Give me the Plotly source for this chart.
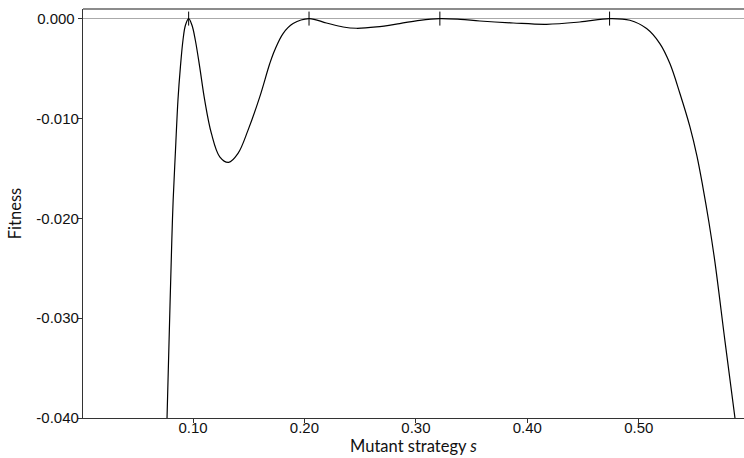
import plotly.graph_objects as go

# Invasion fitness of a rare mutant playing strategy s
strategy = [0.0767, 0.0795, 0.0810, 0.0822, 0.0843, 0.0865, 0.0887, 0.0910, 0.0932,
            0.0961, 0.0991, 0.1021, 0.1060, 0.1105, 0.1165, 0.1240, 0.1320, 0.1404,
            0.1494, 0.1599, 0.1689, 0.1733, 0.1808, 0.1898, 0.2041, 0.2197, 0.2347,
            0.2467, 0.2646, 0.2855, 0.3035, 0.3215, 0.3400, 0.3574, 0.3873, 0.4172,
            0.4471, 0.4738, 0.4920, 0.5070, 0.5189, 0.5279, 0.5369, 0.5459, 0.5522,
            0.5575, 0.5629, 0.5683, 0.5773, 0.5863]
fitness = [-0.04000, -0.02817, -0.02217, -0.01817, -0.01317, -0.00817, -0.00484, -0.00217, -0.00067,
           0.00000, -0.00067, -0.00217, -0.00484, -0.00817, -0.01150, -0.01384, -0.01440, -0.01350,
           -0.01117, -0.00784, -0.00450, -0.00317, -0.00150, -0.00050, 0.00000, -0.00044, -0.00084,
           -0.00097, -0.00084, -0.00050, -0.00017, 0.00000, -0.00008, -0.00024, -0.00044, -0.00057,
           -0.00034, 0.00000, -0.00017, -0.00100, -0.00250, -0.00450, -0.00750, -0.01084, -0.01377,
           -0.01687, -0.02037, -0.02437, -0.03227, -0.04000]

# Resident strategies (fitness zero)
resident = [0.0961, 0.2041, 0.3215, 0.4738]
resident_fitness = [0.0, 0.0, 0.0, 0.0]

x_ticks = [0.10, 0.20, 0.30, 0.40, 0.50]
x_tick_labels = ["0.10", "0.20", "0.30", "0.40", "0.50"]
y_ticks = [0.0, -0.01, -0.02, -0.03, -0.04]
y_tick_labels = ["0.000&nbsp;", "-0.010", "-0.020", "-0.030", "-0.040"]

fig = go.Figure()
fig.add_trace(go.Scatter(
    x=strategy, y=fitness, mode="lines",
    line=dict(color="black", width=1.2, shape="spline", smoothing=1.0),
    hoverinfo="skip", showlegend=False,
))
fig.add_trace(go.Scatter(
    x=resident, y=resident_fitness, mode="markers",
    marker=dict(symbol="line-ns", size=10, line=dict(color="black", width=1)),
    hoverinfo="skip", showlegend=False,
))

fig.update_layout(
    width=744, height=458,
    margin=dict(l=83, r=0, t=9, b=40, autoexpand=False),
    paper_bgcolor="white", plot_bgcolor="white",
    font=dict(family="Liberation Sans, Arial, sans-serif", size=15, color="#111"),
    xaxis=dict(
        range=[0.0013, 0.5944], tickvals=x_ticks, ticktext=x_tick_labels,
        showgrid=False, zeroline=False, showline=True, linecolor="#333", linewidth=1.3,
        ticks="outside", ticklen=4, tickcolor="#333", tickwidth=1,
        ticklabelstandoff=-8,
        automargin=False,
        title=dict(text="Mutant strategy <i>s</i>", standoff=4,
                   font=dict(family="Lato, sans-serif", size=16.5, color="#111")),
    ),
    yaxis=dict(
        range=[-0.04, 0.00096], tickvals=y_ticks, ticktext=y_tick_labels,
        showgrid=False, zeroline=True, zerolinecolor="#aaaaaa", zerolinewidth=1.3,
        showline=True, linecolor="#333", linewidth=1.3,
        ticks="outside", ticklen=4, tickcolor="#333", tickwidth=1,
        ticklabelstandoff=-4,
        automargin=False,
        title=dict(text="Fitness", standoff=10,
                   font=dict(family="Lato, sans-serif", size=16.5, color="#111")),
    ),
    shapes=[dict(type="line", xref="paper", yref="paper", x0=0, x1=1, y0=1, y1=1,
                 line=dict(color="#666", width=1.3))],
)

fig.write_html("out.html")
